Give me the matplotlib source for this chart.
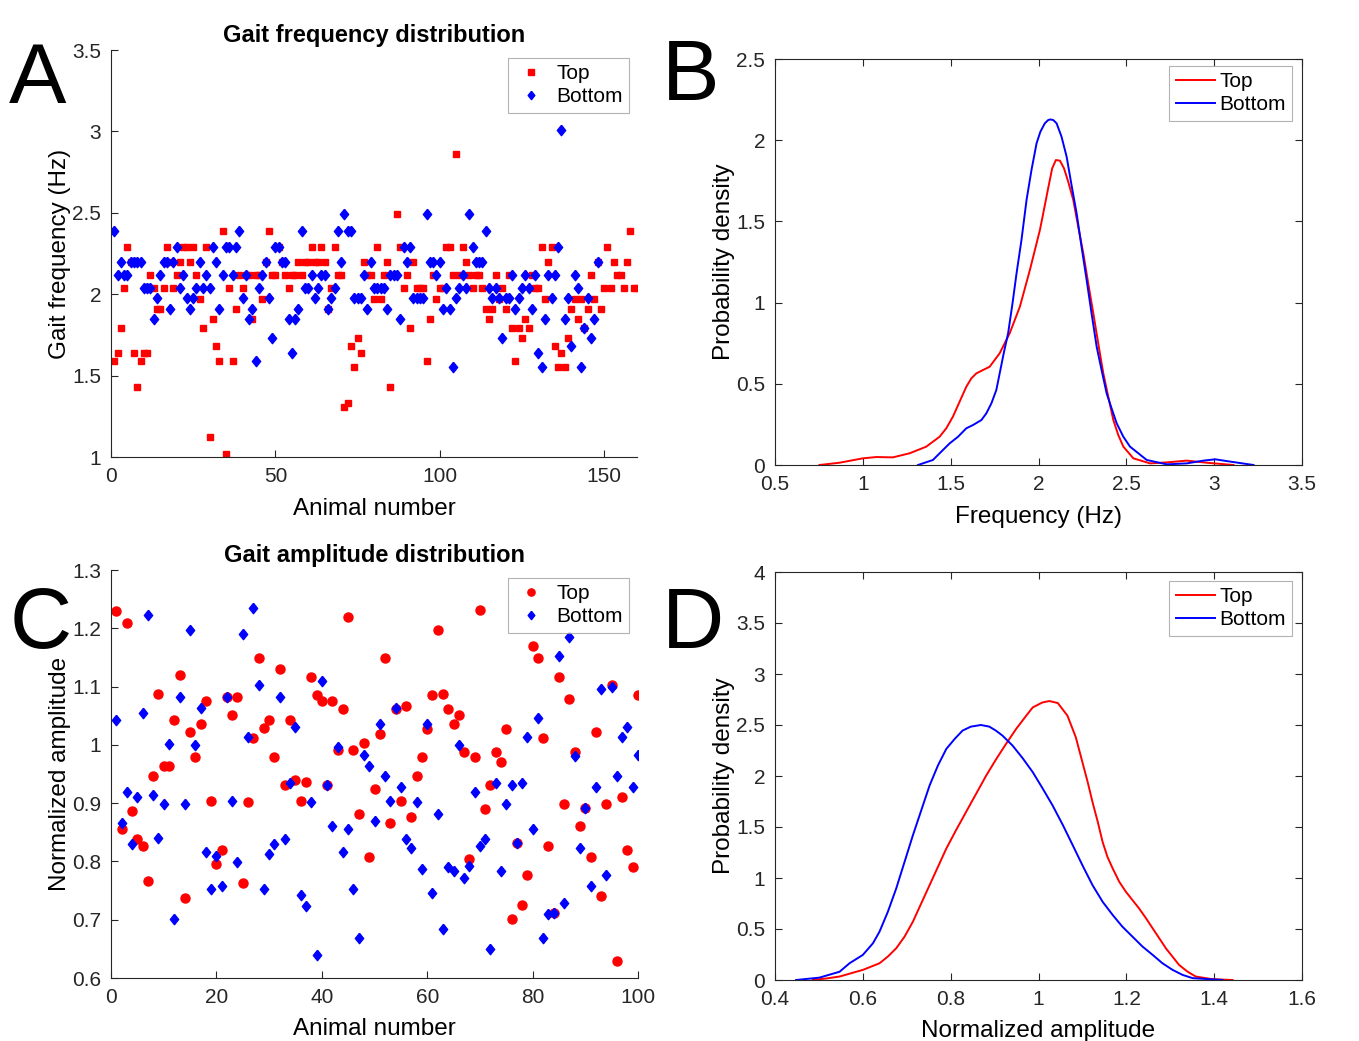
import numpy as np
import matplotlib
matplotlib.use('Agg')
import matplotlib.pyplot as plt

plt.rcParams['font.family'] = ['Liberation Sans', 'DejaVu Sans']
plt.rcParams['xtick.direction'] = 'in'
plt.rcParams['ytick.direction'] = 'in'

red = '#ff0000'
blue = '#0000ff'
axcol = '#262626'
# MATLAB-like diamond, a little taller than wide
diamond = [(0, 1), (0.8, 0), (0, -1), (-0.8, 0), (0, 1)]

# ---- panel A: gait frequency per animal (Hz)
freq_top = [
    1.59, 1.64, 1.79, 2.04, 2.29, 2.20, 1.64, 1.43, 1.59, 1.64,
    1.64, 2.12, 2.04, 1.91, 1.91, 2.04, 2.29, 2.20, 2.04, 2.12,
    2.20, 2.29, 2.29, 2.20, 2.29, 2.12, 1.97, 1.79, 2.29, 1.125,
    1.85, 1.68, 1.59, 2.39, 1.02, 2.04, 1.59, 1.91, 2.12, 2.04,
    2.12, 2.12, 1.85, 2.12, 2.12, 1.97, 2.20, 2.39, 2.12, 2.12,
    2.29, 2.20, 2.12, 2.04, 2.12, 2.12, 2.20, 2.12, 2.20, 2.20,
    2.29, 2.20, 2.20, 2.29, 2.20, 1.91, 2.04, 2.29, 2.12, 2.12,
    1.31, 1.33, 1.68, 1.55, 1.73, 1.64, 2.20, 2.12, 2.12, 1.97,
    2.29, 1.97, 2.12, 2.20, 1.43, 2.12, 2.49, 2.29, 2.04, 2.12,
    1.79, 2.20, 2.04, 2.04, 2.04, 1.59, 1.85, 2.12, 1.97, 2.04,
    2.04, 2.29, 2.29, 2.12, 2.86, 2.12, 2.29, 2.20, 2.12, 2.04,
    2.12, 2.12, 2.04, 1.91, 1.85, 1.91, 2.12, 1.97, 2.04, 1.91,
    2.12, 1.79, 1.59, 1.79, 1.73, 1.85, 1.79, 2.12, 2.04, 2.04,
    2.29, 1.97, 2.20, 2.29, 1.68, 1.55, 1.64, 1.55, 1.73, 1.91,
    1.97, 1.85, 1.97, 1.79, 1.91, 2.12, 1.97, 2.20, 1.91, 2.04,
    2.29, 2.04, 2.20, 2.12, 2.12, 2.04, 2.20, 2.39, 2.04, 2.04,
]
freq_bottom = [
    2.39, 2.12, 2.20, 2.12, 2.12, 2.20, 2.20, 2.20, 2.20, 2.04,
    2.04, 2.04, 1.85, 1.975, 2.12, 2.20, 2.20, 1.91, 2.20, 2.29,
    2.04, 2.12, 1.975, 1.91, 1.975, 2.04, 2.20, 2.04, 2.12, 2.04,
    2.29, 2.20, 1.91, 2.12, 2.29, 2.29, 2.12, 2.29, 2.39, 1.975,
    2.12, 1.85, 1.91, 1.59, 2.04, 2.12, 2.20, 1.975, 1.73, 2.29,
    2.29, 2.20, 2.20, 1.85, 1.64, 1.85, 1.91, 2.39, 2.04, 2.04,
    2.12, 1.975, 2.04, 2.12, 2.12, 1.91, 1.975, 2.04, 2.39, 2.20,
    2.49, 2.39, 2.39, 1.975, 1.975, 1.975, 2.12, 1.91, 2.20, 2.04,
    2.04, 2.04, 2.04, 1.91, 2.12, 2.12, 2.12, 1.85, 2.29, 2.20,
    2.29, 1.975, 1.975, 1.975, 1.975, 2.49, 2.20, 2.20, 2.12, 2.20,
    1.91, 2.04, 1.91, 1.55, 1.975, 2.04, 2.12, 2.04, 2.49, 2.29,
    2.20, 2.20, 2.20, 2.39, 2.04, 1.975, 2.04, 1.975, 1.73, 1.975,
    1.975, 2.12, 1.91, 1.975, 2.04, 2.12, 2.04, 1.91, 2.12, 1.64,
    1.55, 1.85, 2.12, 1.975, 2.12, 2.29, 3.01, 1.85, 1.975, 1.68,
    2.12, 2.04, 1.55, 1.79, 1.975, 1.73, 1.85, 2.20,
]

# ---- panel B: frequency density curves
kde_freq_top_x = [0.753, 0.867, 1.0, 1.076, 1.171, 1.266, 1.361, 1.437, 1.475, 1.513,
                  1.551, 1.589, 1.618, 1.646, 1.684, 1.722, 1.779, 1.836, 1.894, 1.951,
                  2.008, 2.027, 2.055, 2.078, 2.099, 2.122, 2.145, 2.169, 2.198, 2.226,
                  2.255, 2.283, 2.312, 2.340, 2.369, 2.397, 2.426, 2.454, 2.483, 2.540,
                  2.635, 2.730, 2.844, 2.958, 3.110]
kde_freq_top_y = [0.0, 0.014, 0.041, 0.049, 0.047, 0.072, 0.113, 0.174, 0.226, 0.298,
                  0.390, 0.482, 0.534, 0.564, 0.585, 0.605, 0.688, 0.811, 0.975, 1.201,
                  1.447, 1.550, 1.704, 1.827, 1.878, 1.874, 1.827, 1.745, 1.632, 1.468,
                  1.303, 1.119, 0.934, 0.749, 0.564, 0.421, 0.277, 0.185, 0.113, 0.041,
                  0.010, 0.016, 0.027, 0.014, 0.0]
kde_freq_bot_x = [1.314, 1.399, 1.494, 1.542, 1.589, 1.627, 1.675, 1.703, 1.732, 1.760,
                  1.779, 1.802, 1.827, 1.852, 1.875, 1.903, 1.932, 1.960, 1.989, 2.011,
                  2.036, 2.055, 2.068, 2.084, 2.103, 2.131, 2.160, 2.188, 2.217, 2.245,
                  2.274, 2.302, 2.331, 2.359, 2.388, 2.416, 2.445, 2.483, 2.521, 2.616,
                  2.730, 2.844, 2.939, 3.006, 3.091, 3.224]
kde_freq_bot_y = [0.0, 0.031, 0.133, 0.174, 0.226, 0.246, 0.277, 0.318, 0.380, 0.462,
                  0.564, 0.688, 0.811, 0.995, 1.180, 1.385, 1.632, 1.816, 1.981, 2.053,
                  2.104, 2.124, 2.128, 2.124, 2.104, 2.022, 1.899, 1.724, 1.550, 1.344,
                  1.139, 0.934, 0.729, 0.585, 0.441, 0.349, 0.257, 0.174, 0.113, 0.031,
                  0.004, 0.010, 0.027, 0.035, 0.021, 0.0]

# ---- panel C: normalized amplitude per animal
amp_top = [
    1.229, 0.855, 1.209, 0.887, 0.838, 0.827, 0.766, 0.946, 1.087, 0.963,
    0.963, 1.043, 1.120, 0.737, 1.022, 0.979, 1.035, 1.075, 0.904, 0.796,
    0.820, 1.082, 1.052, 1.082, 0.763, 0.902, 1.011, 1.149, 1.029, 1.043,
    0.979, 1.131, 0.931, 1.043, 0.940, 0.904, 0.937, 1.117, 1.085, 1.075,
    0.931, 1.075, 0.992, 1.061, 1.220, 0.992, 0.881, 1.004, 0.808, 0.925,
    1.018, 1.149, 0.866, 1.061, 0.904, 1.067, 0.876, 0.946, 0.979, 1.028,
    1.085, 1.197, 1.087, 1.061, 1.035, 1.052, 0.987, 0.805, 0.979, 1.231,
    0.890, 0.931, 0.987, 0.970, 1.028, 0.702, 0.831, 0.725, 0.776, 1.170,
    1.149, 1.011, 0.827, 0.712, 1.117, 0.899, 1.079, 0.987, 0.861, 0.892,
    0.808, 1.022, 0.741, 0.899, 1.102, 0.629, 0.910, 0.820, 0.791, 1.085,
]
amp_bottom = [
    1.043, 0.866, 0.919, 0.830, 0.910, 1.055, 1.223, 0.914, 0.840, 0.898,
    1.002, 0.701, 1.082, 0.898, 1.197, 1.000, 1.064, 0.816, 0.752, 0.810,
    0.758, 1.082, 0.904, 0.799, 1.190, 1.014, 1.235, 1.102, 0.752, 0.813,
    0.830, 1.082, 0.838, 0.934, 1.031, 0.743, 0.723, 0.902, 0.639, 1.109,
    0.931, 0.861, 0.996, 0.816, 0.855, 0.752, 0.669, 0.982, 0.963, 0.869,
    1.035, 0.946, 0.904, 1.064, 0.928, 0.838, 0.823, 0.902, 0.787, 1.035,
    0.745, 0.881, 0.684, 0.791, 0.784, 1.000, 0.772, 0.792, 0.919, 0.826,
    0.838, 0.649, 0.934, 0.784, 0.899, 0.931, 0.831, 0.934, 1.014, 0.855,
    1.046, 0.669, 0.710, 0.712, 1.152, 0.728, 1.185, 0.981, 0.823, 0.892,
    0.758, 0.928, 1.096, 0.776, 1.099, 0.946, 1.014, 1.031, 0.928, 0.982,
]

# ---- panel D: amplitude density curves
kde_amp_top_x = [0.486, 0.517, 0.547, 0.6, 0.638, 0.657, 0.676, 0.695, 0.714, 0.733,
                 0.752, 0.771, 0.790, 0.812, 0.835, 0.858, 0.881, 0.903, 0.926, 0.949,
                 0.972, 0.987, 1.009, 1.025, 1.044, 1.066, 1.085, 1.100, 1.112, 1.123,
                 1.135, 1.146, 1.157, 1.169, 1.184, 1.199, 1.214, 1.229, 1.245, 1.260,
                 1.275, 1.290, 1.305, 1.320, 1.339, 1.358, 1.396, 1.442]
kde_amp_top_y = [0.0, 0.015, 0.034, 0.099, 0.164, 0.230, 0.311, 0.425, 0.572, 0.751,
                 0.930, 1.109, 1.288, 1.467, 1.647, 1.826, 2.005, 2.161, 2.314, 2.461,
                 2.591, 2.673, 2.721, 2.735, 2.715, 2.591, 2.379, 2.135, 1.940, 1.744,
                 1.549, 1.353, 1.207, 1.093, 0.962, 0.865, 0.783, 0.702, 0.604, 0.506,
                 0.409, 0.311, 0.230, 0.148, 0.083, 0.034, 0.008, 0.0]
kde_amp_bot_x = [0.448, 0.501, 0.547, 0.570, 0.6, 0.623, 0.638, 0.657, 0.676, 0.695,
                 0.714, 0.733, 0.752, 0.771, 0.790, 0.809, 0.827, 0.846, 0.869, 0.888,
                 0.903, 0.918, 0.941, 0.964, 0.987, 1.009, 1.032, 1.055, 1.078, 1.100,
                 1.123, 1.146, 1.169, 1.191, 1.214, 1.237, 1.260, 1.282, 1.305, 1.328,
                 1.351, 1.419]
kde_amp_bot_y = [0.0, 0.023, 0.081, 0.165, 0.246, 0.360, 0.474, 0.669, 0.897, 1.158,
                 1.419, 1.663, 1.907, 2.103, 2.265, 2.363, 2.445, 2.484, 2.500, 2.484,
                 2.445, 2.396, 2.298, 2.174, 2.037, 1.881, 1.712, 1.523, 1.321, 1.125,
                 0.930, 0.767, 0.637, 0.523, 0.425, 0.327, 0.246, 0.165, 0.100, 0.050,
                 0.018, 0.0]

fig = plt.figure(figsize=(13.59, 10.41), dpi=100)
W, H = 1359, 1041


def axes_px(l, r, t, b):
    return fig.add_axes([l / W, 1 - b / H, (r - l) / W, (b - t) / H])


tick_fs = 15
lab_fs = 17.5
leg_fs = 15


def style(ax, box):
    ax.tick_params(labelsize=tick_fs, length=5, width=0.8, pad=7, top=box, right=box,
                   colors=axcol)
    for s in ['top', 'right']:
        ax.spines[s].set_visible(box)
    for s in ax.spines.values():
        s.set_color(axcol)
        s.set_linewidth(0.8)


def add_legend(ax, w_px, h_px, dx, dy, lines):
    kw = dict(loc='upper right', fontsize=leg_fs, frameon=True, fancybox=False,
              edgecolor='#a0a0a0', borderpad=0.3, labelspacing=0.2,
              bbox_to_anchor=(1 - dx / w_px, 1 - dy / h_px), borderaxespad=0)
    if lines:
        kw.update(handlelength=1.9, handletextpad=0.2)
    else:
        kw.update(handlelength=1.6, handletextpad=0.4, markerscale=0.8)
    leg = ax.legend(**kw)
    leg.get_frame().set_linewidth(0.8)


# A
axA = axes_px(111, 637, 50, 457)
axA.plot(np.arange(1, len(freq_top) + 1), freq_top, 's', color=red, markersize=5,
         label='Top', linestyle='none')
axA.plot(np.arange(1, len(freq_bottom) + 1), freq_bottom, marker=diamond, color=blue,
         markersize=7.5, label='Bottom', linestyle='none')
axA.set_xlim(0, 160)
axA.set_ylim(1, 3.5)
axA.set_xticks([0, 50, 100, 150])
axA.set_yticks([1, 1.5, 2, 2.5, 3, 3.5])
axA.set_yticklabels(['1', '1.5', '2', '2.5', '3', '3.5'])
axA.set_xlabel('Animal number', fontsize=lab_fs, labelpad=9)
axA.set_ylabel('Gait frequency (Hz)', fontsize=lab_fs, labelpad=1)
axA.set_title('Gait frequency distribution', fontsize=17, fontweight='bold', pad=6)
style(axA, False)
add_legend(axA, 526, 407, 8, 8, False)

# B
axB = axes_px(775, 1302, 59, 465)
axB.plot(kde_freq_top_x, kde_freq_top_y, color=red, linewidth=1.4, label='Top')
axB.plot(kde_freq_bot_x, kde_freq_bot_y, color=blue, linewidth=1.4, label='Bottom')
axB.set_xlim(0.5, 3.5)
axB.set_ylim(0, 2.5)
axB.set_xticks([0.5, 1, 1.5, 2, 2.5, 3, 3.5])
axB.set_xticklabels(['0.5', '1', '1.5', '2', '2.5', '3', '3.5'])
axB.set_yticks([0, 0.5, 1, 1.5, 2, 2.5])
axB.set_yticklabels(['0', '0.5', '1', '1.5', '2', '2.5'])
axB.set_xlabel('Frequency (Hz)', fontsize=lab_fs, labelpad=9)
axB.set_ylabel('Probability density', fontsize=lab_fs, labelpad=1)
style(axB, True)
add_legend(axB, 527, 406, 10, 7, True)

# C
axC = axes_px(111, 638, 570, 978)
nC = np.arange(1, len(amp_top) + 1)
axC.plot(nC, amp_top, 'o', color=red, markersize=6.5, label='Top', linestyle='none')
axC.plot(nC, amp_bottom, marker=diamond, color=blue, markersize=7.5, label='Bottom',
         linestyle='none')
axC.set_xlim(0, 100)
axC.set_ylim(0.6, 1.3)
axC.set_xticks([0, 20, 40, 60, 80, 100])
axC.set_yticks([0.6, 0.7, 0.8, 0.9, 1.0, 1.1, 1.2, 1.3])
axC.set_yticklabels(['0.6', '0.7', '0.8', '0.9', '1', '1.1', '1.2', '1.3'])
axC.set_xlabel('Animal number', fontsize=lab_fs, labelpad=8)
axC.set_ylabel('Normalized amplitude', fontsize=lab_fs, labelpad=1)
axC.set_title('Gait amplitude distribution', fontsize=17, fontweight='bold', pad=6)
style(axC, False)
add_legend(axC, 527, 408, 9, 8, False)

# D
axD = axes_px(775, 1302, 572, 980)
axD.plot(kde_amp_top_x, kde_amp_top_y, color=red, linewidth=1.4, label='Top')
axD.plot(kde_amp_bot_x, kde_amp_bot_y, color=blue, linewidth=1.4, label='Bottom')
axD.set_xlim(0.4, 1.6)
axD.set_ylim(0, 4)
axD.set_xticks([0.4, 0.6, 0.8, 1.0, 1.2, 1.4, 1.6])
axD.set_xticklabels(['0.4', '0.6', '0.8', '1', '1.2', '1.4', '1.6'])
axD.set_yticks([0, 0.5, 1, 1.5, 2, 2.5, 3, 3.5, 4])
axD.set_yticklabels(['0', '0.5', '1', '1.5', '2', '2.5', '3', '3.5', '4'])
axD.set_xlabel('Normalized amplitude', fontsize=lab_fs, labelpad=8)
axD.set_ylabel('Probability density', fontsize=lab_fs, labelpad=1)
style(axD, True)
add_legend(axD, 527, 408, 10, 9, True)

# panel letters
for lbl, x, y in [('A', 9, 103), ('B', 662, 100), ('C', 10, 648), ('D', 662, 648)]:
    fig.text(x / W, 1 - y / H, lbl, fontsize=62, ha='left', va='baseline')

fig.savefig('out.png', dpi=100)
